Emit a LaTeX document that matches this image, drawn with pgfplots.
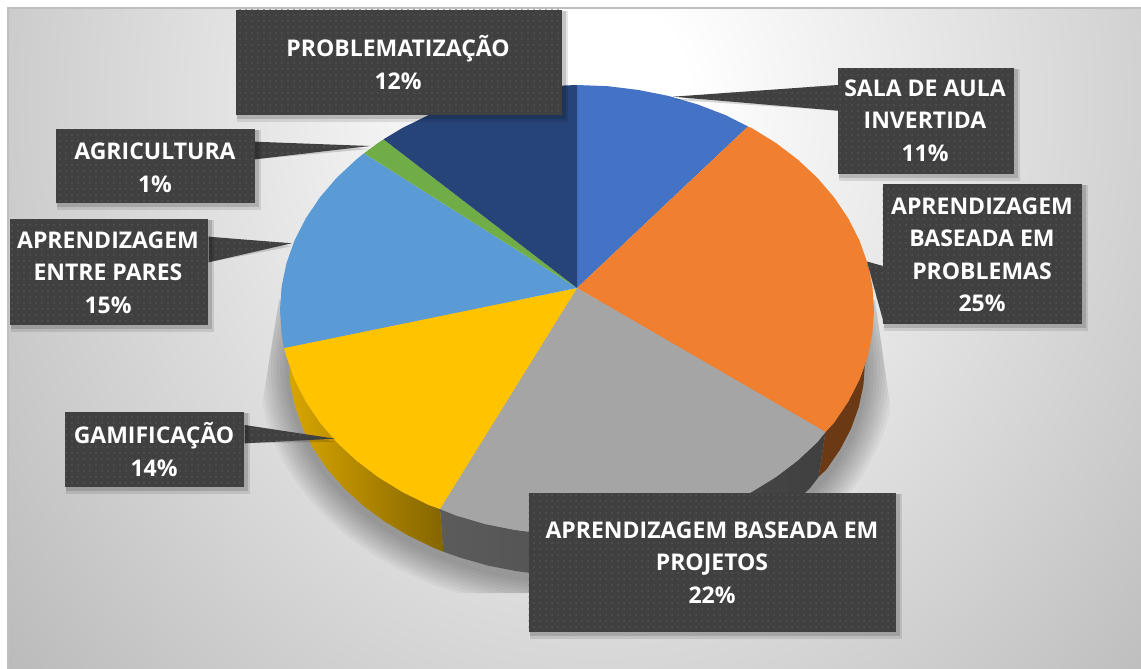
\documentclass[border=0pt]{standalone}
\usepackage{fontspec}
\setmainfont{Open Sans}
\usepackage{pgfplots}
\pgfplotsset{compat=1.18}
\usetikzlibrary{patterns}

\definecolor{bgout}{gray}{0.72}
\definecolor{lab}{HTML}{404040}
\definecolor{labdot}{HTML}{535353}
\definecolor{cblue}{HTML}{4472C4}
\definecolor{corange}{HTML}{F07F2F}
\definecolor{cgray}{HTML}{A5A5A5}
\definecolor{cyellow}{HTML}{FFC300}
\definecolor{clight}{HTML}{5B9BD5}
\definecolor{cgreen}{HTML}{70AD47}
\definecolor{cnavy}{HTML}{264478}

\pgfdeclareradialshading{bgs}{\pgfpointorigin}{color(0bp)=(white); color(3bp)=(white); color(27bp)=(bgout); color(50bp)=(bgout)}

% soft shadow ring, radii in px (1px = 0.5pt)
\newcommand{\shadowring}[2]{\fill[black,opacity=0.035] (axis cs:577,368) ellipse [x radius=#1*0.5pt, y radius=#2*0.5pt];}
% label box: x0,y0,x1,y1
\newcommand{\labbox}[4]{%
  \fill[black,opacity=0.10] (axis cs:#1+1,#2+1) rectangle (axis cs:#3+6,#4+7);
  \fill[black,opacity=0.14] (axis cs:#1+1,#2+1) rectangle (axis cs:#3+4,#4+4);
  \fill[lab] (axis cs:#1,#2) rectangle (axis cs:#3,#4);
  \fill[pattern=dots,pattern color=labdot] (axis cs:#1,#2) rectangle (axis cs:#3,#4);}
% leader wedge: tip, two points on box edge
\newcommand{\leader}[3]{%
  \fill[black,opacity=0.15] (axis cs:#1) ++(0pt,-1.5pt) -- (axis cs:#2) -- (axis cs:#3) -- cycle;
  \fill[lab] (axis cs:#1) -- (axis cs:#2) -- (axis cs:#3) -- cycle;
  \fill[pattern=dots,pattern color=labdot] (axis cs:#1) -- (axis cs:#2) -- (axis cs:#3) -- cycle;}
\newcommand{\lab}[2]{\node[text=white,font=\fontsize{11.5pt}{16.25pt}\selectfont\bfseries,align=center,inner sep=0pt] at (axis cs:#1) {#2};}

\begin{document}
\begin{tikzpicture}
\path[use as bounding box] (0,0) rectangle (570.5pt,334.5pt);
\begin{axis}[
    scale only axis,
    width=570.5pt,
    height=334.5pt,
    xmin=0, xmax=1141,
    ymin=0, ymax=669,
    y dir=reverse,
    hide axis
]

% background
\begin{scope}
\clip (axis cs:7,8) rectangle (axis cs:1141,669);
\shade[shading=bgs] (axis cs:-141,-758) rectangle (axis cs:1341,958);
\end{scope}
\draw[color=black!25,line width=1pt] (axis cs:1142,7.5) -- (axis cs:7.5,7.5) -- (axis cs:7.5,670);

% shadow under the pie
\begin{scope}
\clip (axis cs:279,300) -- (axis cs:875,300) -- (axis cs:895,440) -- (axis cs:897,593) -- (axis cs:258,593) -- (axis cs:258,430) -- cycle;
\shadowring{318}{243}
\shadowring{315}{240}
\shadowring{312}{237}
\shadowring{309}{234}
\shadowring{306}{231}
\shadowring{303}{228}
\shadowring{300}{225}
\shadowring{297}{222}
\shadowring{294}{219}
\shadowring{291}{216}
\end{scope}

% side faces
\addplot[draw=none,fill=corange!45!black] coordinates {
  (865.6,363) (859.5,379.5) (848.3,401.5) (834.2,422.5) (825.5,432) (818.5,477)
  (826.4,469.5) (840.1,449.6) (851,428.8) (858.7,407.3) (863.4,385.3) (865,363)
} --cycle;
\addplot[draw=none,left color=black!64,right color=black!75] coordinates {
  (825.5,432) (817.3,442.2) (797.7,460.5) (775.7,477.2) (751.6,492) (725.5,504.9) (697.8,515.5)
  (668.8,524) (638.7,530) (608,533.8) (577,535) (546,533.8) (515.3,530) (485.2,524) (456.2,515.5) (440,509)
  (443.3,551.7) (460,557.6) (488,565.6) (517.1,571.3) (546.9,574.8) (577,576) (607.1,574.8) (636.9,571.3)
  (666,565.6) (694.1,557.6) (721,547.5) (746.3,535.3) (769.7,521.3) (791,505.5) (810,488.2) (818.5,477)
} --cycle;
\addplot[draw=none,left color=cyellow!85!black,right color=cyellow!52!black] coordinates {
  (440,509) (428.5,504.9) (402.4,492) (378.3,477.2) (356.3,460.5) (336.7,442.2) (319.8,422.5) (305.7,401.5)
  (294.5,379.5) (288.4,363) (289,363) (290.6,385.3) (295.3,407.3) (303,428.8) (313.9,449.6) (327.6,469.5)
  (344,488.2) (363,505.5) (384.3,521.3) (407.7,535.3) (433,547.5) (443.3,551.7)
} --cycle;

% top faces
\addplot[draw=none,fill=cblue] coordinates {
  (577,288) (577,85) (608,86.2) (638.7,90) (668.8,96) (697.8,104.5) (725.5,115.1) (748,126.5)
} --cycle;
\addplot[draw=none,fill=corange] coordinates {
  (577,288) (748,126.5) (751.6,128) (775.7,142.8) (797.7,159.5) (817.3,177.8) (834.2,197.5) (848.3,218.5)
  (859.5,240.5) (867.5,263.2) (872.4,286.5) (874,310) (872.4,333.5) (867.5,356.8) (859.5,379.5)
  (848.3,401.5) (834.2,422.5) (825.5,432)
} --cycle;
\addplot[draw=none,fill=cgray] coordinates {
  (577,288) (825.5,432) (817.3,442.2) (797.7,460.5) (775.7,477.2) (751.6,492) (725.5,504.9) (697.8,515.5)
  (668.8,524) (638.7,530) (608,533.8) (577,535) (546,533.8) (515.3,530) (485.2,524) (456.2,515.5) (440,509)
} --cycle;
\addplot[draw=none,fill=cyellow] coordinates {
  (577,288) (440,509) (428.5,504.9) (402.4,492) (378.3,477.2) (356.3,460.5) (336.7,442.2) (319.8,422.5)
  (305.7,401.5) (294.5,379.5) (286.5,356.8) (284,348)
} --cycle;
\addplot[draw=none,fill=clight] coordinates {
  (577,288) (284,348) (281.6,333.5) (280,310) (281.6,286.5) (286.5,263.2) (294.5,240.5) (305.7,218.5)
  (319.8,197.5) (336.7,177.8) (356.3,159.5) (364,153.3)
} --cycle;
\addplot[draw=none,fill=cgreen] coordinates {
  (577,288) (364,153.3) (378.3,142.8) (383.5,139.3)
} --cycle;
\addplot[draw=none,fill=cnavy] coordinates {
  (577,288) (383.5,139.3) (402.4,128) (428.5,115.1) (456.2,104.5) (485.2,96) (515.3,90) (546,86.2) (577,85)
} --cycle;

% leaders
\leader{673,96.7}{838,85}{838,110.7}
\leader{867,261.5}{883,266}{883,320}
\leader{370,146}{255,141.7}{255,159.3}
\leader{291.7,243.3}{208.5,236.7}{208.5,262.3}
\leader{335,438.7}{244.5,425}{244.5,443.3}

% labels
\labbox{235.5}{9.5}{562}{114.5}
\labbox{837.5}{67.5}{1014}{173.5}
\labbox{882.5}{184}{1082}{323.5}
\labbox{55.5}{129}{254.5}{202.5}
\labbox{9.5}{219}{208}{325}
\labbox{65}{412}{244}{487}
\labbox{528.5}{492.5}{896}{631.5}

\lab{398,62.5}{PROBLEMATIZAÇÃO\\12\%}
\lab{925,120.5}{SALA DE AULA\\INVERTIDA\\11\%}
\lab{982,255}{APRENDIZAGEM\\BASEADA EM\\PROBLEMAS\\25\%}
\lab{155,168}{AGRICULTURA\\1\%}
\lab{108,272.5}{APRENDIZAGEM\\ENTRE PARES\\15\%}
\lab{154,449.5}{GAMIFICAÇÃO\\14\%}
\lab{712,562.5}{APRENDIZAGEM BASEADA EM\\PROJETOS\\22\%}

\end{axis}
\end{tikzpicture}
\end{document}
